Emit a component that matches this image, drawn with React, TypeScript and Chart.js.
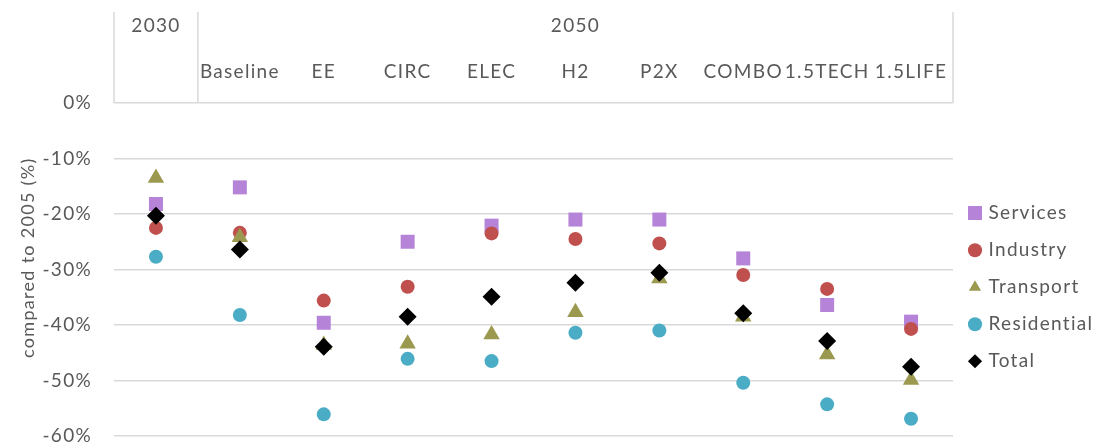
import { useEffect, useRef } from 'react';
import { Chart, registerables } from 'chart.js';

Chart.register(...registerables);

// ---- data ----
const categories = ['2030', 'Baseline', 'EE', 'CIRC', 'ELEC', 'H2', 'P2X', 'COMBO', '1.5TECH', '1.5LIFE'];
const scenarioLabels = ['', 'Baseline', 'EE', 'CIRC', 'ELEC', 'H2', 'P2X', 'COMBO', '1.5TECH', '1.5LIFE'];
const groupNames = ['2030', '2050'];
const groupStart = [0, 1];
const groupEnd = [0, 9];
const yTickValues = [-60, -50, -40, -30, -20, -10, 0];

const services = [-18.2, -15.2, -39.6, -25.0, -22.1, -21.0, -21.0, -28.0, -36.4, -39.4];
const industry = [-22.5, -23.4, -35.6, -33.1, -23.5, -24.5, -25.3, -31.0, -33.5, -40.7];
const transport = [-13.5, -24.2, -43.6, -43.4, -41.7, -37.7, -31.6, -38.5, -45.3, -49.9];
const residential = [-27.7, -38.2, -56.1, -46.1, -46.5, -41.4, -41.0, -50.4, -54.3, -56.9];
const total = [-20.3, -26.4, -43.9, -38.5, -34.9, -32.4, -30.6, -37.9, -42.9, -47.5];

const TEXT = '#595959';
const GRID = '#D9D9D9';
const FONT = 'Lato, "Liberation Sans", sans-serif';
const SPACING = '1.3px';

const spacingPlugin = {
  id: 'spacing',
  beforeUpdate(chart: any) { chart.ctx.letterSpacing = SPACING; },
  beforeLayout(chart: any) { chart.ctx.letterSpacing = SPACING; },
  beforeDraw(chart: any) { chart.ctx.letterSpacing = SPACING; },
};

const headerPlugin = {
  id: 'header',
  afterDraw(chart: any) {
    const { ctx, chartArea } = chart;
    const xs = chart.scales.x;
    const top = 12;
    ctx.save();
    ctx.strokeStyle = GRID;
    ctx.lineWidth = 1.5;
    const divider = (xs.getPixelForValue(0) + xs.getPixelForValue(1)) / 2;
    [chartArea.left, divider, chartArea.right].forEach((x: number) => {
      ctx.beginPath();
      ctx.moveTo(x, top);
      ctx.lineTo(x, chartArea.top);
      ctx.stroke();
    });
    ctx.fillStyle = TEXT;
    ctx.font = `19px ${FONT}`;
    ctx.letterSpacing = SPACING;
    ctx.textAlign = 'center';
    ctx.textBaseline = 'middle';
    groupNames.forEach((name, i) => {
      const x = (xs.getPixelForValue(groupStart[i]) + xs.getPixelForValue(groupEnd[i])) / 2;
      ctx.fillText(name, x, 26);
    });
    ctx.restore();
  },
};

function squareMarker(color: string, size: number) {
  const c = document.createElement('canvas');
  c.width = size;
  c.height = size;
  const g = c.getContext('2d')!;
  g.fillStyle = color;
  g.fillRect(0, 0, size, size);
  return c;
}

export default function App() {
  const ref = useRef<HTMLCanvasElement>(null);
  useEffect(() => {
    document.body.style.margin = '0';
    const mk = (label: string, data: number[], color: string, style: string, r: number, order: number) => ({
      label,
      data,
      showLine: false,
      pointStyle: style,
      pointRadius: r,
      pointHoverRadius: r,
      backgroundColor: color,
      borderColor: color,
      pointBorderWidth: 0,
      borderWidth: 0,
      order,
    });
    const servicesSquare = squareMarker('#B584D9', 14);
    const chart = new Chart(ref.current!, {
      type: 'line',
      data: {
        labels: categories,
        datasets: [
          mk('Services', services, '#B584D9', 'rect', 9.9, 4),
          mk('Industry', industry, '#C0504D', 'circle', 7, 3),
          mk('Transport', transport, '#9B994F', 'triangle', 9.5, 2),
          mk('Residential', residential, '#4BACC6', 'circle', 7, 1),
          mk('Total', total, '#000000', 'rectRot', 9, 0),
        ],
      },
      options: {
        responsive: false,
        animation: false,
        font: { family: FONT },
        layout: { autoPadding: false, padding: { top: 13, bottom: 7, left: 0, right: 0 } },
        plugins: {
          tooltip: { enabled: false },
          legend: {
            position: 'right',
            align: 'center',
            maxWidth: 143,
            title: { display: true, text: ' ', font: { size: 8, family: FONT }, padding: { top: 0, bottom: 116 } },
            labels: {
              usePointStyle: true,
              boxWidth: 8,
              boxHeight: 10,
              color: TEXT,
              font: { size: 19, family: FONT },
              padding: 18,
              sort: (a: any, b: any) => a.datasetIndex - b.datasetIndex,
              generateLabels: (ch: any) => {
                const items = (Chart as any).defaults.plugins.legend.labels.generateLabels(ch);
                return items.map((it: any) => (it.datasetIndex === 0 ? { ...it, pointStyle: servicesSquare } : it));
              },
            },
          },
        },
        scales: {
          x: {
            type: 'category',
            position: 'top',
            offset: true,
            grid: { display: false, drawTicks: false, offset: true },
            border: { display: false },
            ticks: {
              color: TEXT,
              font: { size: 19, family: FONT },
              padding: 20,
              maxRotation: 0,
              autoSkip: false,
              callback: (_v: any, i: number) => scenarioLabels[i],
            },
            afterFit: (s: any) => { s.height = 90; },
          },
          y: {
            min: -60,
            max: 0,
            afterBuildTicks: (s: any) => { s.ticks = yTickValues.map((v) => ({ value: v })); },
            ticks: {
              color: TEXT,
              font: { size: 19, family: FONT, lineHeight: 0.2 },
              padding: 0,
              callback: (v: any) => `${v}%`,
            },
            grid: { color: GRID, lineWidth: 1.5, drawTicks: true, tickLength: 22, tickColor: 'rgba(0,0,0,0)' },
            border: { display: false },
            title: {
              display: true,
              text: '    compared to 2005 (%)',
              color: TEXT,
              font: { size: 18, family: FONT },
              padding: { top: 17, bottom: 0 },
            },
            afterFit: (s: any) => { s.width = 114; s.paddingBottom = 0; s.paddingTop = 0; },
          },
        },
      },
      plugins: [spacingPlugin, headerPlugin],
    } as any);
    return () => chart.destroy();
  }, []);
  return <canvas ref={ref} width={1096} height={443} />;
}
